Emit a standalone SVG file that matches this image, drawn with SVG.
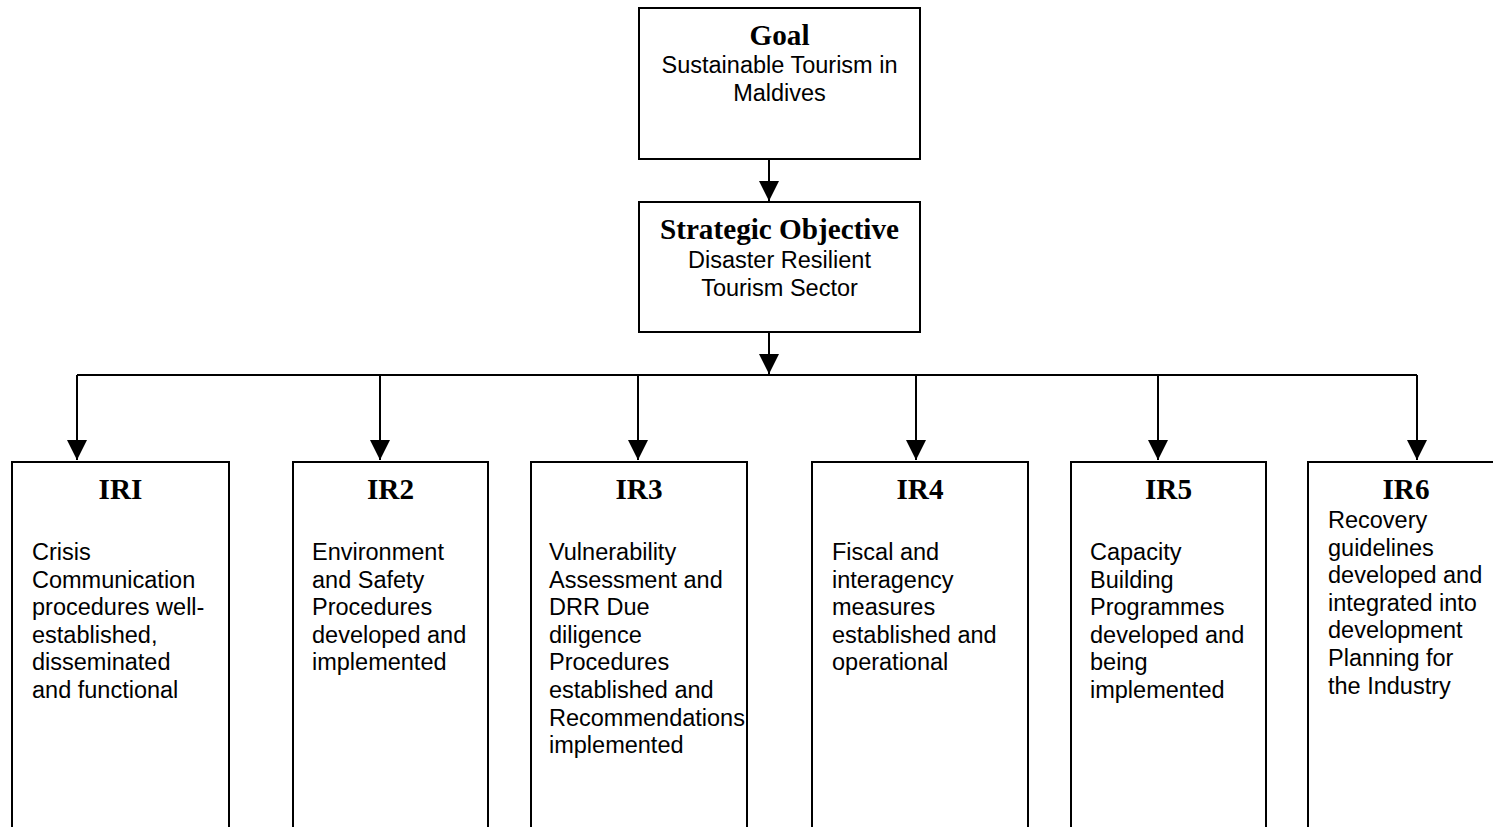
<svg xmlns="http://www.w3.org/2000/svg" width="1493" height="827" viewBox="0 0 1493 827">
<defs>
<style>
.box{fill:#fff;stroke:#000;stroke-width:2}
.ln{fill:none;stroke:#000;stroke-width:2}
.hd{font-family:"Liberation Serif","Times New Roman",serif;font-weight:bold;font-size:29.2px;fill:#000;text-anchor:middle}
.tx{font-family:"Liberation Sans",Arial,sans-serif;font-size:23.5px;fill:#000}
.c{text-anchor:middle}
</style>
<marker id="ah" viewBox="0 0 20 20" refX="20" refY="10" markerWidth="20" markerHeight="20" markerUnits="userSpaceOnUse" orient="auto">
<path d="M0,0 L20,10 L0,20 Z" fill="#000"/>
</marker>
</defs>
<rect width="1493" height="827" fill="#fff"/>
<g id="connectors">
<line class="ln" x1="769" y1="159" x2="769" y2="201" marker-end="url(#ah)"/>
<line class="ln" x1="769" y1="332" x2="769" y2="374" marker-end="url(#ah)"/>
<line class="ln" x1="77" y1="375" x2="1417" y2="375"/>
<line class="ln" x1="77" y1="375" x2="77" y2="460" marker-end="url(#ah)"/>
<line class="ln" x1="380" y1="375" x2="380" y2="460" marker-end="url(#ah)"/>
<line class="ln" x1="638" y1="375" x2="638" y2="460" marker-end="url(#ah)"/>
<line class="ln" x1="916" y1="375" x2="916" y2="460" marker-end="url(#ah)"/>
<line class="ln" x1="1158" y1="375" x2="1158" y2="460" marker-end="url(#ah)"/>
<line class="ln" x1="1417" y1="375" x2="1417" y2="460" marker-end="url(#ah)"/>
</g>
<g id="goal">
<rect class="box" x="639" y="8" width="281" height="151"/>
<text class="hd" x="779.5" y="45">Goal</text>
<text class="tx c" x="779.5" y="73">Sustainable Tourism in</text>
<text class="tx c" x="779.5" y="101">Maldives</text>
</g>
<g id="strategic">
<rect class="box" x="639" y="202" width="281" height="130"/>
<text class="hd" x="779.5" y="239">Strategic Objective</text>
<text class="tx c" x="779.5" y="268">Disaster Resilient</text>
<text class="tx c" x="779.5" y="296">Tourism Sector</text>
</g>
<g id="ir1">
<path class="ln" d="M12,840 V462 H229 V840"/>
<text class="hd" x="120.5" y="499">IRI</text>
<text class="tx" x="32" y="560">Crisis</text>
<text class="tx" x="32" y="587.6">Communication</text>
<text class="tx" x="32" y="615.2">procedures well-</text>
<text class="tx" x="32" y="642.8">established,</text>
<text class="tx" x="32" y="670.4">disseminated</text>
<text class="tx" x="32" y="698">and functional</text>
</g>
<g id="ir2">
<path class="ln" d="M293,840 V462 H488 V840"/>
<text class="hd" x="390.5" y="499">IR2</text>
<text class="tx" x="312" y="560">Environment</text>
<text class="tx" x="312" y="587.6">and Safety</text>
<text class="tx" x="312" y="615.2">Procedures</text>
<text class="tx" x="312" y="642.8">developed and</text>
<text class="tx" x="312" y="670.4">implemented</text>
</g>
<g id="ir3">
<path class="ln" d="M531,840 V462 H747 V840"/>
<text class="hd" x="639" y="499">IR3</text>
<text class="tx" x="549" y="560">Vulnerability</text>
<text class="tx" x="549" y="587.6">Assessment and</text>
<text class="tx" x="549" y="615.2">DRR Due</text>
<text class="tx" x="549" y="642.8">diligence</text>
<text class="tx" x="549" y="670.4">Procedures</text>
<text class="tx" x="549" y="698">established and</text>
<text class="tx" x="549" y="725.6">Recommendations</text>
<text class="tx" x="549" y="753.2">implemented</text>
</g>
<g id="ir4">
<path class="ln" d="M812,840 V462 H1028 V840"/>
<text class="hd" x="920" y="499">IR4</text>
<text class="tx" x="832" y="560">Fiscal and</text>
<text class="tx" x="832" y="587.6">interagency</text>
<text class="tx" x="832" y="615.2">measures</text>
<text class="tx" x="832" y="642.8">established and</text>
<text class="tx" x="832" y="670.4">operational</text>
</g>
<g id="ir5">
<path class="ln" d="M1071,840 V462 H1266 V840"/>
<text class="hd" x="1168.5" y="499">IR5</text>
<text class="tx" x="1090" y="560">Capacity</text>
<text class="tx" x="1090" y="587.6">Building</text>
<text class="tx" x="1090" y="615.2">Programmes</text>
<text class="tx" x="1090" y="642.8">developed and</text>
<text class="tx" x="1090" y="670.4">being</text>
<text class="tx" x="1090" y="698">implemented</text>
</g>
<g id="ir6">
<path class="ln" d="M1308,840 V462 H1510"/>
<text class="hd" x="1406" y="499">IR6</text>
<text class="tx" x="1328" y="528">Recovery</text>
<text class="tx" x="1328" y="555.6">guidelines</text>
<text class="tx" x="1328" y="583.2">developed and</text>
<text class="tx" x="1328" y="610.8">integrated into</text>
<text class="tx" x="1328" y="638.4">development</text>
<text class="tx" x="1328" y="666">Planning for</text>
<text class="tx" x="1328" y="693.6">the Industry</text>
</g>
</svg>
